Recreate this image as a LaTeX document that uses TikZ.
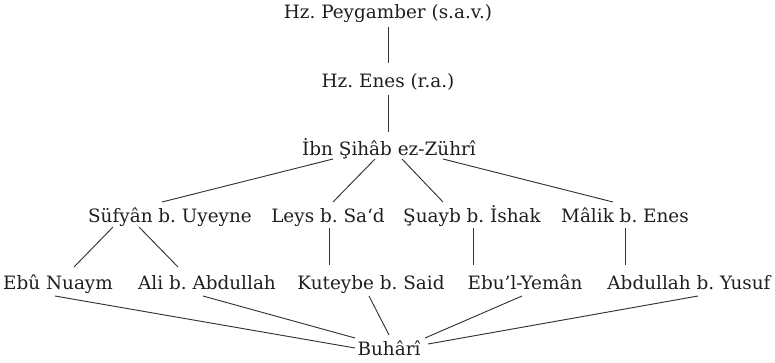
\documentclass[tikz,border=0pt]{standalone}
\usepackage{fontspec}
\setmainfont{DejaVu Serif}
\begin{document}
\frenchspacing
\begin{tikzpicture}[x=0.75pt,y=-0.75pt,
  person/.style={anchor=base,inner sep=0pt,font=\fontsize{13.8pt}{15pt}\selectfont,text=black!88},
  link/.style={draw=black!80,line width=0.7pt}]
\useasboundingbox (0,0) rectangle (775,362);
\node[person] (p) at (388,18.5) {Hz. Peygamber (s.a.v.)};
\node[person] (e) at (388,87) {Hz. Enes (r.a.)};
\node[person] (z) at (389,155) {İbn Şihâb ez-Zührî};
\node[person] (s) at (170,222) {Süfyân b. Uyeyne};
\node[person] (l) at (328,222) {Leys b. Sa‘d};
\node[person] (su) at (472,222) {Şuayb b. İshak};
\node[person] (m) at (625,222) {Mâlik b. Enes};
\node[person] (n) at (58,289) {Ebû Nuaym};
\node[person] (a) at (207,289) {Ali b. Abdullah};
\node[person] (k) at (371,289) {Kuteybe b. Said};
\node[person] (y) at (525,289) {Ebu’l-Yemân};
\node[person] (ab) at (689,289) {Abdullah b. Yusuf};
\node[person] (b) at (389,355) {Buhârî};
\draw[link] ([shift={(0,8.5)}]p.base) -- ([shift={(0,-24)}]e.base);
\draw[link] ([shift={(0,8)}]e.base) -- ([shift={(-1,-23)}]z.base);
\draw[link] ([shift={(-56,4)}]z.base) -- ([shift={(-8,-20)}]s.base);
\draw[link] ([shift={(-14,4)}]z.base) -- ([shift={(5,-20)}]l.base);
\draw[link] ([shift={(13,4)}]z.base) -- ([shift={(-29,-20)}]su.base);
\draw[link] ([shift={(54,4)}]z.base) -- ([shift={(-12,-20)}]m.base);
\draw[link] ([shift={(-57,5)}]s.base) -- ([shift={(16,-22)}]n.base);
\draw[link] ([shift={(-31,5)}]s.base) -- ([shift={(-29,-22)}]a.base);
\draw[link] ([shift={(1,6)}]l.base) -- ([shift={(-42,-24)}]k.base);
\draw[link] ([shift={(1,6)}]su.base) -- ([shift={(-52,-24)}]y.base);
\draw[link] ([shift={(0,6)}]m.base) -- ([shift={(-64,-24)}]ab.base);
\draw[link] ([shift={(-3,7)}]n.base) -- ([shift={(-34,-7)}]b.base);
\draw[link] ([shift={(-4,7)}]a.base) -- ([shift={(-34,-17)}]b.base);
\draw[link] ([shift={(-2,7)}]k.base) -- ([shift={(0,-20)}]b.base);
\draw[link] ([shift={(-3,7)}]y.base) -- ([shift={(36,-17)}]b.base);
\draw[link] ([shift={(9,7)}]ab.base) -- ([shift={(39,-11)}]b.base);
\end{tikzpicture}
\end{document}
